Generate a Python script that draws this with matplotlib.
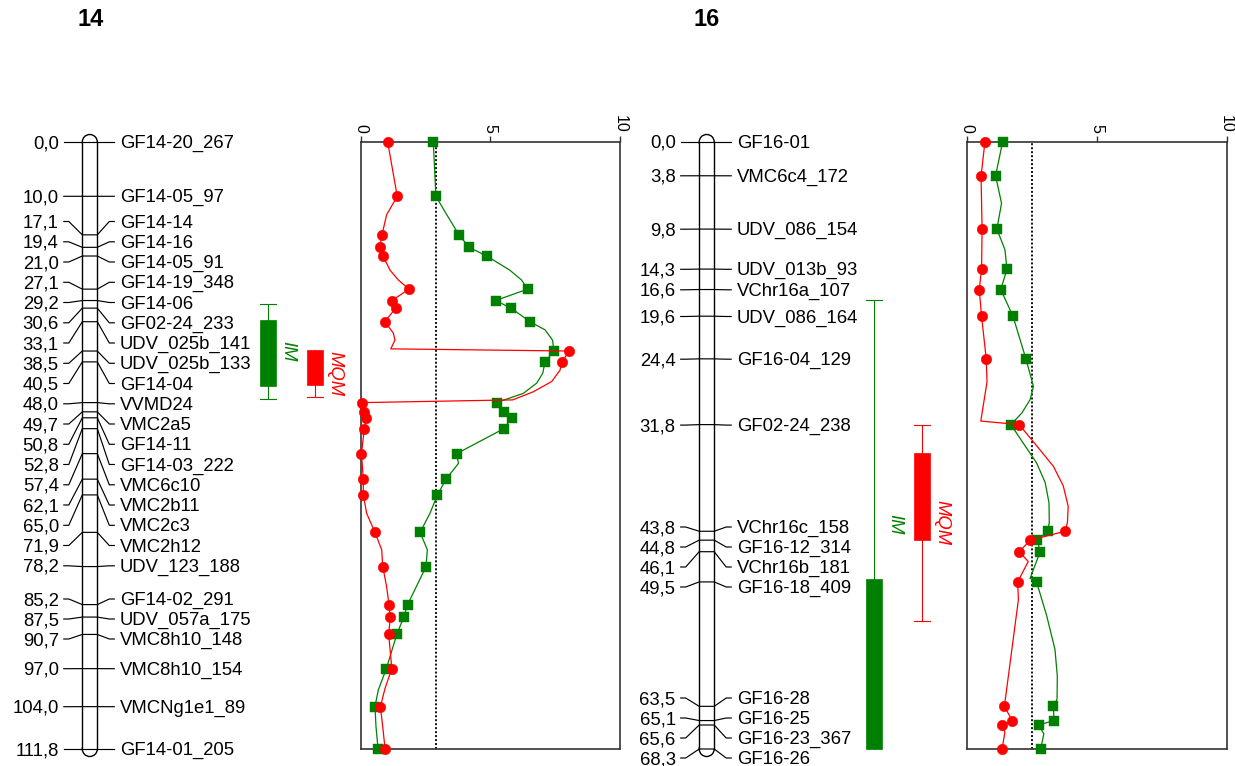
import matplotlib
matplotlib.use("Agg")
import matplotlib.pyplot as plt
from matplotlib.patches import Ellipse, Rectangle

plt.rcParams['font.family'] = ['Liberation Sans', 'DejaVu Sans']

# ------------------------------------------------------------------ data
# Linkage group 14
chr14_markers = ["GF14-20_267", "GF14-05_97", "GF14-14", "GF14-16", "GF14-05_91",
                 "GF14-19_348", "GF14-06", "GF02-24_233", "UDV_025b_141",
                 "UDV_025b_133", "GF14-04", "VVMD24", "VMC2a5", "GF14-11",
                 "GF14-03_222", "VMC6c10", "VMC2b11", "VMC2c3", "VMC2h12",
                 "UDV_123_188", "GF14-02_291", "UDV_057a_175", "VMC8h10_148",
                 "VMC8h10_154", "VMCNg1e1_89", "GF14-01_205"]
chr14_cm = [0.0, 10.0, 17.1, 19.4, 21.0, 27.1, 29.2, 30.6, 33.1, 38.5, 40.5, 48.0,
            49.7, 50.8, 52.8, 57.4, 62.1, 65.0, 71.9, 78.2, 85.2, 87.5, 90.7, 97.0,
            104.0, 111.8]
chr14_im_lod = [2.80, 2.90, 3.79, 4.18, 4.86, 6.44, 5.20, 5.80, 6.53, 7.45, 7.11, 5.24,
                5.53, 5.83, 5.52, 3.70, 3.29, 2.96, 2.29, 2.52, 1.81, 1.66, 1.39, 0.99,
                0.55, 0.67]
chr14_mqm_lod = [1.04, 1.41, 0.82, 0.74, 0.86, 1.86, 1.21, 1.35, 0.93, 8.05, 7.75, 0.04,
                 0.14, 0.22, 0.14, 0.03, 0.10, 0.10, 0.55, 0.85, 1.09, 1.14, 1.08, 1.20,
                 0.76, 0.94]
# LOD profile between markers
chr14_im_scan_cm = [13.4, 23.6, 25.4, 34.6, 36.5, 42.6, 44.4, 46.3, 59.2, 68.4, 75.1,
                    100.9, 107.7]
chr14_im_scan_lod = [3.32, 5.75, 6.20, 7.11, 7.40, 7.02, 6.79, 6.27, 3.77, 2.67, 2.57,
                     0.68, 0.59]
chr14_mqm_scan_cm = [13.4, 23.6, 25.4, 35.2, 36.5, 38.1, 42.0, 44.1, 46.0, 47.5, 68.4,
                     75.1, 81.9, 100.6, 107.7]
chr14_mqm_scan_lod = [1.00, 1.13, 1.45, 1.26, 1.32, 1.16, 7.69, 7.37, 6.66, 5.86, 0.23,
                      0.81, 1.00, 0.94, 0.85]
chr14_threshold = 2.9
# support intervals: outer start, box start, box end, outer end (cM)
chr14_im_interval = (29.8, 32.7, 44.9, 47.4)
chr14_mqm_interval = (38.3, 38.3, 44.75, 46.9)

# Linkage group 16
chr16_markers = ["GF16-01", "VMC6c4_172", "UDV_086_154", "UDV_013b_93", "VChr16a_107",
                 "UDV_086_164", "GF16-04_129", "GF02-24_238", "VChr16c_158",
                 "GF16-12_314", "VChr16b_181", "GF16-18_409", "GF16-28", "GF16-25",
                 "GF16-23_367", "GF16-26"]
chr16_cm = [0.0, 3.8, 9.8, 14.3, 16.6, 19.6, 24.4, 31.8, 43.8, 44.8, 46.1, 49.5, 63.5,
            65.1, 65.6, 68.3]
chr16_im_lod = [1.36, 1.09, 1.14, 1.53, 1.29, 1.76, 2.26, 1.68, 3.10, 2.70, 2.81, 2.67,
                3.32, 3.34, 2.75, 2.83]
chr16_mqm_lod = [0.68, 0.53, 0.57, 0.55, 0.46, 0.55, 0.73, 2.00, 3.77, 2.43, 2.00, 1.94,
                 1.43, 1.73, 1.32, 1.34]
chr16_im_scan_cm = [6.9, 12.1, 27.5, 29.0, 30.5, 33.9, 36.1, 38.3, 40.6, 42.8, 49.1,
                    53.3, 57.1, 60.1, 62.7, 66.6]
chr16_im_scan_lod = [1.32, 1.45, 2.55, 2.42, 2.10, 2.16, 2.67, 3.00, 3.15, 3.16, 2.42,
                     3.06, 3.38, 3.47, 3.46, 2.95]
chr16_mqm_scan_cm = [27.0, 31.4, 34.2, 36.5, 38.7, 41.0, 42.8, 47.2, 51.5, 66.4]
chr16_mqm_scan_lod = [0.76, 0.52, 2.68, 3.32, 3.70, 3.89, 3.86, 2.35, 1.97, 1.45]
chr16_threshold = 2.5
chr16_im_interval = (17.75, 49.2, 68.3, 68.3)
chr16_mqm_interval = (31.8, 35.0, 44.8, 53.9)

# ------------------------------------------------------------------ layout
W, H = 1235, 766
TOP, BOTTOM = 142, 749          # vertical extent of every map (px)
GREEN, RED = '#008000', '#ff0000'
FS = 13.3
TEXT_DROP = 1.5                 # px, optical centring of marker labels

# label slots (px) after spreading crowded marker names
chr14_label_px = [142, 196.3, 221.5, 241.8, 262.0, 282.3, 302.5, 322.8, 343.0, 363.3,
                  383.5, 403.8, 424.0, 444.3, 464.5, 484.8, 505.0, 525.3, 545.5, 565.8,
                  599.0, 619.0, 639.0, 668.7, 706.7, 749.0]
chr16_label_px = [142, 175.8, 229.2, 269.3, 289.8, 316.5, 359.2, 425.1, 527.0, 547.0,
                  567.0, 587.0, 698.0, 718.0, 738.0, 758.0]

fig = plt.figure(figsize=(W / 100, H / 100), dpi=100)


def map_axes(x0, x1, length):
    ax = fig.add_axes([x0 / W, 1 - BOTTOM / H, (x1 - x0) / W, (BOTTOM - TOP) / H])
    ax.set_xlim(x0, x1)
    ax.set_ylim(length, 0)
    ax.axis('off')
    return ax


def px_to_cm(py, length):
    return (py - TOP) * length / (BOTTOM - TOP)


def draw_chromosome(ax, cx, length, cms, names, label_px):
    half = 7.5
    k = length / (BOTTOM - TOP)
    for yc in (0, length):
        ax.add_patch(Ellipse((cx, yc), 2 * half, 2 * half * k, fc='white', ec='black',
                             lw=1.0, zorder=1, clip_on=False))
    ax.add_patch(Rectangle((cx - half, 0), 2 * half, length, fc='white', ec='none',
                           zorder=2, clip_on=False))
    for xe in (cx - half, cx + half):
        ax.plot([xe, xe], [0, length], color='black', lw=1.0, zorder=3, clip_on=False)
    for c, name, lp in zip(cms, names, label_px):
        sy = px_to_cm(lp, length)
        ty = px_to_cm(lp + TEXT_DROP, length)
        xs = [cx - half - 18.5, cx - half - 13.5, cx - half, cx + half,
              cx + half + 12, cx + half + 17]
        ys = [sy, sy, c, c, sy, sy]
        ax.plot(xs, ys, color='black', lw=0.85, zorder=4, clip_on=False)
        ax.text(cx - half - 23.5, ty, f"{c:.1f}".replace('.', ','), ha='right',
                va='center', fontsize=FS)
        ax.text(cx + half + 22.5, ty, name, ha='left', va='center', fontsize=FS)


def draw_interval(ax, x, iv, color, label):
    lo, b_lo, b_hi, hi = iv
    w = 16
    ax.plot([x, x], [lo, hi], color=color, lw=0.8, clip_on=False)
    for end, b in ((lo, b_lo), (hi, b_hi)):
        if end != b:
            ax.plot([x - w / 2, x + w / 2], [end, end], color=color, lw=0.8,
                    clip_on=False)
    ax.add_patch(Rectangle((x - w / 2, b_lo), w, b_hi - b_lo, fc=color, ec=color,
                           lw=0.5, clip_on=False))
    ax.text(x + 20.5, (lo + hi) / 2, label, rotation=-90, color=color,
            style='italic', fontsize=FS, ha='center', va='center')


def scan(cms, lods, extra_cm, extra_lod):
    pts = sorted(zip(list(cms) + list(extra_cm), list(lods) + list(extra_lod)))
    return [p[0] for p in pts], [p[1] for p in pts]


def draw_lod(x0, x1, length, cms, im, mqm, im_scan, mqm_scan, thr):
    ax = fig.add_axes([x0 / W, 1 - BOTTOM / H, (x1 - x0) / W, (BOTTOM - TOP) / H])
    ax.set_xlim(0, 10)
    ax.set_ylim(length, 0)
    for sp in ax.spines.values():
        sp.set_color('#333333')
        sp.set_linewidth(1.2)
    ax.set_xticks([0, 5, 10])
    ax.set_xticklabels(['0', '5', '10'])
    ax.set_yticks([])
    ax.xaxis.tick_top()
    ax.tick_params(axis='x', top=True, bottom=False, labeltop=True,
                   labelbottom=False, direction='out', length=4.2, width=1.0,
                   color='#333333', pad=2.5, labelsize=11.5, labelrotation=-90)
    ax.axvline(thr, color='black', lw=1.3, ls=(0, (1.1, 1.1)), zorder=1)

    ic, il = scan(cms, im, *im_scan)
    ax.plot(il, ic, color=GREEN, lw=0.9, zorder=2, clip_on=False)
    ax.plot(im, cms, ls='none', marker='s', ms=7.3, mfc=GREEN, mec=GREEN, mew=0.3,
            zorder=3, clip_on=False)
    mc, ml = scan(cms, mqm, *mqm_scan)
    ax.plot(ml, mc, color=RED, lw=0.9, zorder=4, clip_on=False)
    ax.plot(mqm, cms, ls='none', marker='o', ms=7.6, mfc=RED, mec=RED, mew=0.3,
            zorder=5, clip_on=False)
    return ax


# ---- group 14
L14 = chr14_cm[-1]
ax14 = map_axes(0, 350, L14)
draw_chromosome(ax14, 89.8, L14, chr14_cm, chr14_markers, chr14_label_px)
draw_interval(ax14, 267.5, chr14_im_interval, GREEN, 'IM')
draw_interval(ax14, 314.7, chr14_mqm_interval, RED, 'MQM')
draw_lod(360.7, 620.0, L14, chr14_cm, chr14_im_lod, chr14_mqm_lod,
         (chr14_im_scan_cm, chr14_im_scan_lod),
         (chr14_mqm_scan_cm, chr14_mqm_scan_lod), chr14_threshold)
fig.text(90.5 / W, 1 - 20 / H, '14', ha='center', va='center', fontsize=17,
         fontweight='bold')

# ---- group 16
L16 = chr16_cm[-1]
ax16 = map_axes(620, 960, L16)
draw_chromosome(ax16, 706.7, L16, chr16_cm, chr16_markers, chr16_label_px)
draw_interval(ax16, 874.4, chr16_im_interval, GREEN, 'IM')
draw_interval(ax16, 921.7, chr16_mqm_interval, RED, 'MQM')
draw_lod(967.3, 1226.7, L16, chr16_cm, chr16_im_lod, chr16_mqm_lod,
         (chr16_im_scan_cm, chr16_im_scan_lod),
         (chr16_mqm_scan_cm, chr16_mqm_scan_lod), chr16_threshold)
fig.text(706.5 / W, 1 - 20 / H, '16', ha='center', va='center', fontsize=17,
         fontweight='bold')

fig.savefig('out.png', dpi=100, facecolor='white')
